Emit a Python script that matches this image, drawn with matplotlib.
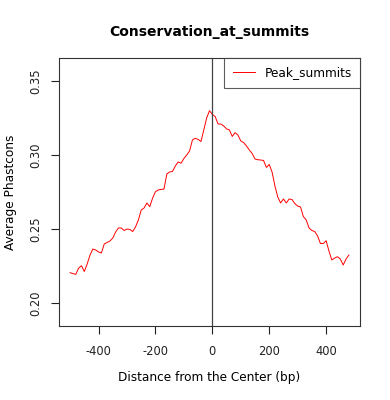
import matplotlib.pyplot as plt
import numpy as np

plt.rcParams['axes.unicode_minus'] = False
plt.rcParams['font.family'] = 'DejaVu Sans'

# distance from summit centre (bp)
distance = np.arange(-500, 490, 10)

# average phastcons score at each distance
phastcons = [
    0.2205, 0.2199, 0.2194, 0.2236, 0.2252, 0.2213, 0.2264, 0.2324, 0.2365, 0.2358,
    0.2345, 0.2338, 0.2399, 0.2409, 0.2419, 0.2439, 0.2480, 0.2507, 0.2507, 0.2490,
    0.2500, 0.2497, 0.2483, 0.2514, 0.2561, 0.2628, 0.2642, 0.2676, 0.2651, 0.2709,
    0.2752, 0.2764, 0.2767, 0.2770, 0.2872, 0.2885, 0.2889, 0.2926, 0.2953, 0.2944,
    0.2976, 0.3000, 0.3027, 0.3101, 0.3113, 0.3105, 0.3091, 0.3169, 0.3250, 0.3299,
    0.3274, 0.3260, 0.3209, 0.3209, 0.3196, 0.3176, 0.3169, 0.3125, 0.3151, 0.3135,
    0.3095, 0.3084, 0.3061, 0.3034, 0.3010, 0.2973, 0.2968, 0.2966, 0.2963, 0.2916,
    0.2936, 0.2885, 0.2791, 0.2716, 0.2676, 0.2703, 0.2676, 0.2703, 0.2699, 0.2672,
    0.2655, 0.2649, 0.2584, 0.2561, 0.2507, 0.2490, 0.2483, 0.2453, 0.2402, 0.2402,
    0.2421, 0.2351, 0.2291, 0.2304, 0.2313, 0.2297, 0.2257, 0.2297, 0.2324,
]

xticks = [-400, -200, 0, 200, 400]
yticks = [0.20, 0.25, 0.30, 0.35]

fig = plt.figure(figsize=(3.9, 4.0), dpi=100)
ax = fig.add_axes([0.1513, 0.185, 0.7717, 0.67])

ax.plot(distance, phastcons, color='#ff0000', lw=0.7, label='Peak_summits')
ax.axvline(0, color='#444444', lw=0.9)

ax.set_xlim(-539, 519)
ax.set_ylim(0.1845, 0.3655)
ax.set_xticks(xticks)
ax.set_xticklabels([str(t) for t in xticks])
ax.set_yticks(yticks)
ax.set_yticklabels(['%.2f' % t for t in yticks], rotation=90, va='center')

ax.tick_params(direction='out', length=6, width=0.8, labelsize=8.3, colors='#222222')
ax.tick_params(axis='x', pad=8)
ax.tick_params(axis='y', pad=6)
for s in ax.spines.values():
    s.set_color('#333333')
    s.set_linewidth(0.8)

ax.set_xlabel('Distance from the Center (bp)', fontsize=8.7, labelpad=9)
ax.set_ylabel('Average Phastcons', fontsize=8.7, labelpad=9)
ax.set_title('Conservation_at_summits', fontsize=10, fontweight='bold', pad=16)

leg = ax.legend(loc='upper right', fontsize=8.7, frameon=True, fancybox=False,
                borderaxespad=0, handlelength=1.8, borderpad=0.7)
leg.get_frame().set_edgecolor('#333333')
leg.get_frame().set_linewidth(0.8)

fig.savefig('out.png', dpi=100)
